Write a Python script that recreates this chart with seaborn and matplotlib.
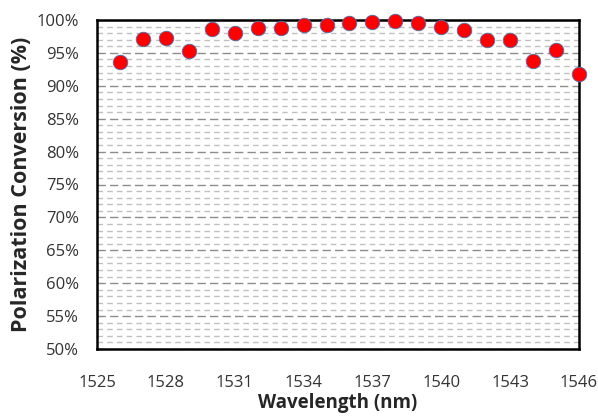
import matplotlib
matplotlib.use("Agg")
import matplotlib.pyplot as plt
import seaborn as sns
import pandas as pd
from matplotlib.ticker import MultipleLocator, FuncFormatter

wavelength = [1526, 1527, 1528, 1529, 1530, 1531, 1532, 1533, 1534, 1535, 1536,
              1537, 1538, 1539, 1540, 1541, 1542, 1543, 1544, 1545, 1546]
conversion = [93.6, 97.1, 97.2, 95.3, 98.6, 98.1, 98.8, 98.8, 99.2, 99.2, 99.6,
              99.7, 99.9, 99.5, 98.9, 98.5, 97.0, 97.0, 93.8, 95.5, 91.8]
x_ticks = [1525, 1528, 1531, 1534, 1537, 1540, 1543, 1546]
y_ticks = [50, 55, 60, 65, 70, 75, 80, 85, 90, 95, 100]

df = pd.DataFrame({"Wavelength": wavelength, "Conversion": conversion})

sns.set_style("white")
plt.rcParams['font.family'] = ['Open Sans', 'DejaVu Sans']

fig = plt.figure(figsize=(5.98, 4.17), dpi=100)
ax = fig.add_axes([97/598, 1 - 349/417, (579-97)/598, (349-20)/417])

ax.set_xlim(1525, 1546)
ax.set_ylim(50, 100)
ax.yaxis.set_major_locator(MultipleLocator(5))
ax.yaxis.set_minor_locator(MultipleLocator(1))
ax.set_xticks(x_ticks)
ax.set_yticks(y_ticks)
ax.yaxis.set_major_formatter(FuncFormatter(lambda v, p: f"{int(v)}%"))

ax.grid(which="major", axis="y", color="#8c8c8c", linestyle=(0, (6, 3)), linewidth=1.0)
ax.grid(which="minor", axis="y", color="#c0c0c0", linestyle=(0, (4, 3)), linewidth=1.0)
ax.set_axisbelow(True)

sns.scatterplot(data=df, x="Wavelength", y="Conversion", ax=ax, s=110,
                color="#ff0000", edgecolor="#4f6fb0", linewidth=0.6,
                clip_on=False, zorder=5)

for sp in ax.spines.values():
    sp.set_color("black")
    sp.set_linewidth(1.8)
    sp.set_visible(True)

ax.tick_params(axis="both", which="major", direction="in", length=6, width=1.8,
               colors="black", labelcolor="#333333", labelsize=12)
ax.tick_params(axis="x", which="major", pad=19)
ax.tick_params(axis="y", which="major", pad=13)
ax.tick_params(axis="y", which="minor", length=0)
ax.tick_params(axis="x", which="minor", length=0)

ax.set_xlabel("Wavelength (nm)", fontsize=13.5, fontweight="bold", labelpad=1)
ax.set_ylabel("Polarization Conversion (%)", fontsize=15.5, fontweight="bold", labelpad=3)

fig.savefig("out.png", dpi=100)
